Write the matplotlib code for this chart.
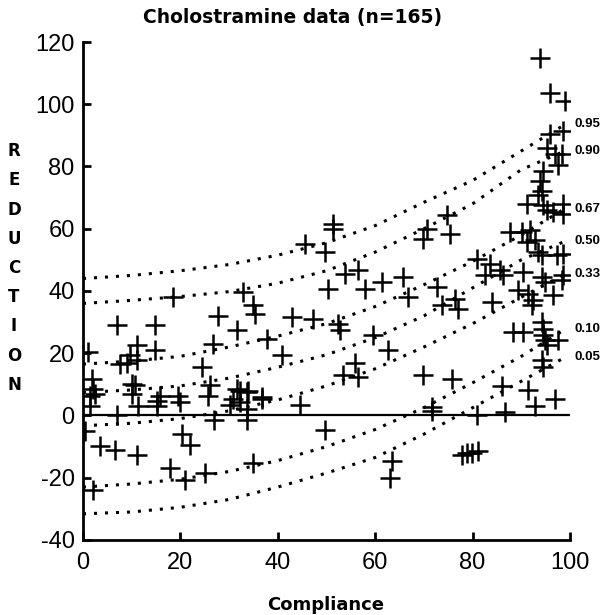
import matplotlib.pyplot as plt

plt.rcParams['axes.unicode_minus'] = False

# scatter data: compliance (%) vs cholesterol reduction
compliance = [
    1, 2, 0.5, 3.5, 6.6, 11, 7, 1.4, 1.4, 2, 10, 11.3, 15.2, 15.8, 15.2, 20, 20.3, 22,
    17.9, 21, 7, 14.8, 11, 9.6, 9, 7.6, 11, 14.8, 18.5, 1.8, 2.5, 10, 10.7, 19.5,
    27.7, 26.7, 24.4, 26, 25.7, 30.8, 31.6, 31.6, 32.2, 33.7, 32.2, 33.7, 30.2, 36.8,
    33.7, 27, 35, 25, 32.9, 35, 35.3, 37.8, 40.9, 33.9, 36.8,
    44.6, 49.7, 42.9, 47.2, 52.4, 52.8, 45.6, 49.7, 51.3, 51.3, 53.8, 56.5, 50.3, 58,
    61.4, 65.7, 66.7, 59.5, 62.6, 55.8, 53.4, 56.5, 63.4, 63,
    71.7, 86.6, 91.4, 92.8, 97, 81, 77.8, 78.9, 79.9, 81.1,
    93.8, 95.9, 99, 95.9, 98.6, 95.3, 97, 98.4, 97.5,
    93.8, 94.5, 94.2, 93.4, 91.2, 94.5, 95.3, 98.6, 98.6, 96.5,
    74.7, 75.4, 70.6, 69.8, 87.7, 90.1, 91.8, 91.2, 92.8,
    93.4, 94.2, 97.3, 98.6, 80.9, 83.6, 82.5, 85.6, 86.2, 90.3,
    94.2, 94.9, 98.4, 98.6, 72.7, 73.7, 76.4, 77, 84,
    89.3, 91.4, 92.4, 92.2, 96.5, 88.3, 90.3,
    94.2, 94.5, 94.5, 94.9, 95.3, 97.5, 94.2, 94.5,
    69.8, 75.8, 86, 71.7,
]
reduction = [
    20.3, -23.9, -5, -9.7, -11, -12.6, 0, 6.4, 3.2, 8.4, 6.8, 3.2, 4.8, 6.4, 3.2, 4.2, -6, -9.4,
    -16.8, -20.6, 29, 29, 22.6, 19.4, 17, 16.5, 17.7, 21, 38, 11.6, 6.8, 10, 9.7, 6.4,
    32, 23, 15.5, 9.7, 6.4, 5.2, 8.4, 27.4, 8, 7.4, 4.2, 2, 3.5, 5.2,
    -1.6, -1.6, -15.2, -18.4, 39.7, 35.5, 32.6, 24.5, 19.4, 8, 5.8,
    3.5, -4.8, 31.6, 31, 29.4, 27.4, 55, 52.6, 61.6, 60, 45.5, 46.8, 40.6, 40.6,
    42.9, 44.5, 38, 25.8, 21, 17, 12.9, 12.3, -14.5, -20,
    1.5, 1, 8.2, 3, 5.2, 0, -12.6, -12, -12, -11.3,
    114.8, 103.5, 101, 90.6, 91.3, 85.8, 84, 83.9, 80.6,
    75.2, 78.4, 72, 71, 68, 67.7, 66.1, 68, 64.8, 65.5,
    64.5, 58.4, 60, 56.8, 59, 59, 59.7, 55.8, 56.5,
    52.6, 51.6, 51.6, 52, 50.3, 48.7, 45.2, 46.8, 45.2, 46,
    44.5, 42.9, 43.5, 45.2, 41.3, 35.5, 37.4, 34.2, 36.5,
    40.3, 39, 37, 35.5, 38.7, 26.8, 26.8,
    30, 27.7, 25.8, 24.2, 22.6, 24.2, 17.7, 15.5,
    12.9, 11.6, 9.5, 2.6,
]

# fitted quantile curves read at these compliance values
curve_x = [0, 10, 20, 30, 40, 50, 60, 70, 80, 90, 99]
q95 = [44, 45, 46.5, 48.5, 51.5, 55.5, 61, 68.5, 75.5, 85, 93.5]
q90 = [36, 37, 38.2, 39.8, 42.5, 46.5, 52.5, 60, 68, 79, 85]
q67 = [16.5, 17.5, 19, 22, 25.5, 29.5, 35, 42, 49.5, 58, 66.5]
q50 = [7.4, 8.2, 9.5, 12, 15.5, 19.5, 25, 32, 41, 50, 56]
q33 = [-3.3, -2.5, -1, 1.5, 5, 9.5, 15, 22, 29.5, 38, 45.5]
q10 = [-23, -22, -20.5, -18, -14.5, -10, -4.5, 2.5, 10.5, 19, 27.7]
q05 = [-31.6, -31, -29.5, -27, -23, -18.5, -13.5, -6, 2.5, 11, 18.7]
quantile_labels = ['0.95', '0.90', '0.67', '0.50', '0.33', '0.10', '0.05']

fig = plt.figure(figsize=(6.08, 6.15), dpi=100)
ax = fig.add_axes([0.1365, 0.122, 0.801, 0.8097])

ax.axhline(0, color='black', linewidth=1.6)

for curve, label in zip([q95, q90, q67, q50, q33, q10, q05], quantile_labels):
    ax.plot(curve_x, curve, color='black', linewidth=2.2, linestyle=(0, (1, 2.6)))
    ax.text(101, curve[-1], label, fontsize=9.5, fontweight='bold',
            family='Liberation Sans', ha='left', va='center', clip_on=False)

ax.plot(compliance, reduction, linestyle='none', marker='+', color='black',
        markersize=15, markeredgewidth=1.8)

ax.set_xlim(0, 100)
ax.set_ylim(-40, 120)
ax.set_xticks([0, 20, 40, 60, 80, 100])
ax.set_yticks([-40, -20, 0, 20, 40, 60, 80, 100, 120])
ax.spines['top'].set_visible(False)
ax.spines['right'].set_visible(False)
ax.spines['left'].set_linewidth(2)
ax.spines['bottom'].set_linewidth(2)
ax.tick_params(axis='both', direction='in', length=6, width=2, labelsize=17,
               labelfontfamily='Liberation Sans')
ax.tick_params(axis='x', pad=9)
ax.tick_params(axis='y', pad=6)

fig.text(293 / 608, 1 - 18 / 615, 'Cholostramine data (n=165)', fontsize=13.5,
         fontweight='bold', ha='center', va='center')
fig.text(326 / 608, 1 - 605 / 615, 'Compliance', fontsize=13,
         fontweight='bold', ha='center', va='center')
fig.text(14 / 608, 1 - 268 / 615, '\n'.join('REDUCTION'), fontsize=12,
         fontweight='bold', ha='center', va='center', linespacing=1.8)

fig.savefig('out.png', dpi=100)
